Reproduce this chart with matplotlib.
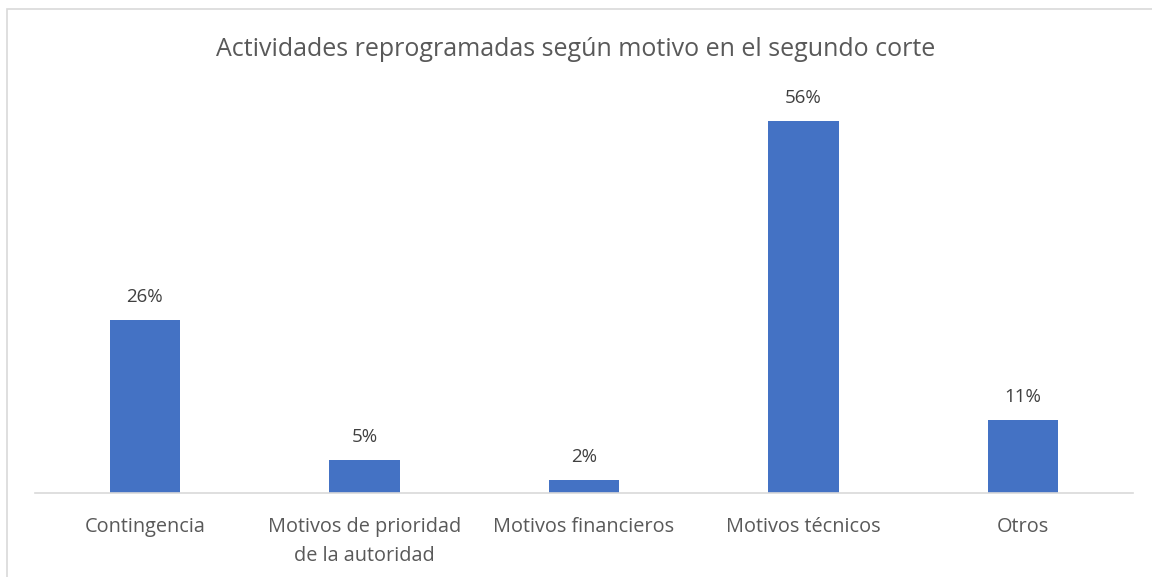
import matplotlib
matplotlib.use("Agg")
import matplotlib.pyplot as plt
from matplotlib.patches import Rectangle

categories = ["Contingencia", "Motivos de prioridad\nde la autoridad", "Motivos financieros", "Motivos técnicos", "Otros"]
values = [26, 5, 2, 56, 11]
labels = ["26%", "5%", "2%", "56%", "11%"]
title = "Actividades reprogramadas según motivo en el segundo corte"

W, H = 1152, 577
plt.rcParams['font.family'] = ['Open Sans', 'DejaVu Sans']
fig = plt.figure(figsize=(W/100, H/100), dpi=100)

# chart area border
fig.patches.append(Rectangle((6.5/W, -0.1), (W - 6.5 + 20)/W, (H - 8.5)/H + 0.1,
                             transform=fig.transFigure, fill=False,
                             edgecolor="#d9d9d9", linewidth=1.2))

ax_bottom = (H - 493) / H
ymax = 60
px_per = 372 / 56
ax_height = ymax * px_per / H
ax = fig.add_axes([35/W, ax_bottom, (1133-35)/W, ax_height])

x = list(range(len(categories)))
ax.bar(x, values, width=0.32, color="#4472c4", zorder=2)
for xi, v, lab in zip(x, values, labels):
    ax.annotate(lab, (xi, v), xytext=(0, 16.5), textcoords="offset points",
                ha="center", va="center", fontsize=13.5, color="#404040")

ax.set_xlim(-0.5, len(categories) - 0.5)
ax.set_ylim(0, ymax)
ax.set_xticks(x)
ax.set_xticklabels(categories, fontsize=14.3, color="#595959", linespacing=1.6)
ax.tick_params(axis="x", length=0, pad=17)
ax.set_yticks([])
for s in ["top", "right", "left"]:
    ax.spines[s].set_visible(False)
ax.spines["bottom"].set_color("#d9d9d9")
ax.spines["bottom"].set_linewidth(1.2)

fig.text(0.5, (H - 49)/H, title, ha="center", va="center", fontsize=18, color="#595959")

fig.savefig("out.png", dpi=100)
